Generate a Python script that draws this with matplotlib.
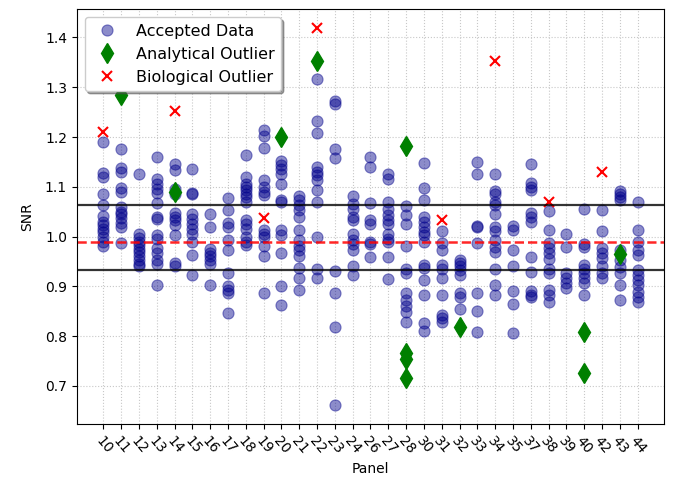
import matplotlib
matplotlib.use("Agg")
import matplotlib.pyplot as plt

panels = ["10", "11", "12", "13", "14", "15", "16", "17", "18", "19", "20",
          "21", "22", "23", "24", "26", "27", "28", "30", "31", "32", "33",
          "34", "35", "37", "38", "39", "40", "42", "43", "44"]

# accepted SNR values, one list per panel (same order as panels)
accepted = [
    [1.189, 1.128, 1.119, 1.086, 1.063, 1.042, 1.03, 1.023, 1.016, 1.009, 1.0, 0.99, 0.98],
    [1.176, 1.138, 1.129, 1.097, 1.09, 1.06, 1.05, 1.045, 1.038, 1.028, 1.02, 0.987],
    [1.126, 1.005, 0.998, 0.99, 0.983, 0.975, 0.968, 0.96, 0.953, 0.945, 0.94],
    [1.159, 1.116, 1.105, 1.096, 1.088, 1.068, 1.04, 1.036, 1.003, 0.995, 0.977, 0.966, 0.952, 0.945, 0.903],
    [1.146, 1.133, 1.095, 1.085, 1.047, 1.04, 1.033, 1.023, 1.003, 0.947, 0.94],
    [1.136, 1.087, 1.086, 1.046, 1.036, 1.026, 1.016, 1.006, 0.99, 0.963, 0.922],
    [1.046, 1.02, 0.975, 0.967, 0.96, 0.953, 0.944, 0.903],
    [1.078, 1.053, 1.028, 1.02, 0.993, 0.973, 0.926, 0.9, 0.893, 0.886, 0.847],
    [1.164, 1.119, 1.106, 1.099, 1.093, 1.086, 1.079, 1.069, 1.033, 1.026, 1.016, 0.999, 0.99, 0.983],
    [1.214, 1.203, 1.178, 1.113, 1.099, 1.089, 1.083, 1.013, 1.006, 0.999, 0.98, 0.961, 0.886],
    [1.151, 1.143, 1.136, 1.125, 1.105, 1.073, 1.069, 1.013, 1.003, 0.967, 0.9, 0.863],
    [1.081, 1.073, 1.063, 1.053, 1.04, 1.014, 0.993, 0.98, 0.973, 0.96, 0.936, 0.916, 0.892],
    [1.316, 1.233, 1.209, 1.139, 1.13, 1.123, 1.113, 1.093, 1.069, 0.999, 0.934, 0.916],
    [1.272, 1.266, 1.176, 1.158, 0.931, 0.886, 0.818, 0.661],
    [1.081, 1.065, 1.056, 1.039, 1.033, 1.006, 0.993, 0.985, 0.973, 0.94, 0.923],
    [1.159, 1.139, 1.067, 1.033, 1.025, 0.99, 0.985, 0.959],
    [1.126, 1.116, 1.069, 1.056, 1.043, 1.033, 1.025, 1.006, 0.996, 0.989, 0.958, 0.915],
    [1.061, 1.043, 1.025, 0.981, 0.934, 0.926, 0.886, 0.872, 0.86, 0.848, 0.828],
    [1.147, 1.097, 1.073, 1.039, 1.03, 1.02, 1.01, 1.003, 0.99, 0.943, 0.936, 0.913, 0.883, 0.826, 0.81],
    [1.011, 0.987, 0.973, 0.943, 0.934, 0.916, 0.883, 0.843, 0.836, 0.828],
    [0.953, 0.946, 0.94, 0.933, 0.923, 0.886, 0.878, 0.854],
    [1.149, 1.125, 1.021, 1.02, 0.986, 0.887, 0.851, 0.808],
    [1.125, 1.091, 1.086, 1.069, 1.063, 1.046, 1.019, 1.011, 0.993, 0.979, 0.969, 0.934, 0.903, 0.883],
    [1.021, 1.014, 0.973, 0.94, 0.891, 0.865, 0.806],
    [1.146, 1.107, 1.099, 1.093, 1.047, 1.039, 1.03, 0.958, 0.929, 0.891, 0.883, 0.878],
    [1.051, 1.014, 0.987, 0.976, 0.966, 0.954, 0.934, 0.926, 0.893, 0.883, 0.868],
    [1.005, 0.978, 0.926, 0.916, 0.906, 0.896],
    [1.056, 0.985, 0.979, 0.943, 0.934, 0.926, 0.916, 0.906, 0.883],
    [1.054, 1.011, 0.976, 0.966, 0.956, 0.941, 0.927, 0.916],
    [1.091, 1.085, 1.079, 1.073, 0.973, 0.953, 0.939, 0.926, 0.903, 0.873],
    [1.069, 1.014, 0.989, 0.973, 0.963, 0.933, 0.923, 0.913, 0.903, 0.889, 0.879, 0.869],
]

analytical_panels = ["11", "14", "20", "22", "28", "28", "28", "28", "32", "40", "40", "43"]
analytical_snr = [1.285, 1.09, 1.2, 1.352, 1.181, 0.766, 0.753, 0.716, 0.818, 0.808, 0.725, 0.965]

biological_panels = ["10", "14", "19", "22", "31", "34", "38", "42"]
biological_snr = [1.21, 1.252, 1.037, 1.419, 1.034, 1.353, 1.069, 1.129]

mean_snr = 0.99
upper_limit = 1.063
lower_limit = 0.932

fig, ax = plt.subplots(figsize=(6.73, 4.83), dpi=100)

xs = []
ys = []
for p, vals in zip(panels, accepted):
    xs += [p] * len(vals)
    ys += vals
ax.plot(xs, ys, 'o', color='darkblue', alpha=0.45, markersize=8, mew=0.8, label='Accepted Data')
ax.plot(analytical_panels, analytical_snr, 'd', color='green', markersize=10.5, label='Analytical Outlier')
ax.plot(biological_panels, biological_snr, 'x', color='red', markersize=7, mew=1.5, label='Biological Outlier')

ax.axhline(upper_limit, color='black', lw=1.6, alpha=0.8)
ax.axhline(lower_limit, color='black', lw=1.6, alpha=0.8)
ax.axhline(mean_snr, color='red', ls='--', lw=1.8, alpha=0.85)

ax.grid(True, ls=':', color='#c8c8c8')
ax.set_xlabel('Panel')
ax.set_ylabel('SNR', labelpad=8)
plt.setp(ax.get_xticklabels(), rotation=-50, ha='left', rotation_mode='anchor')
ax.legend(loc='upper left', fontsize=11.5, shadow=True, framealpha=1)

fig.subplots_adjust(left=0.114, right=0.987, top=0.981, bottom=0.122)
fig.savefig('out.png')
